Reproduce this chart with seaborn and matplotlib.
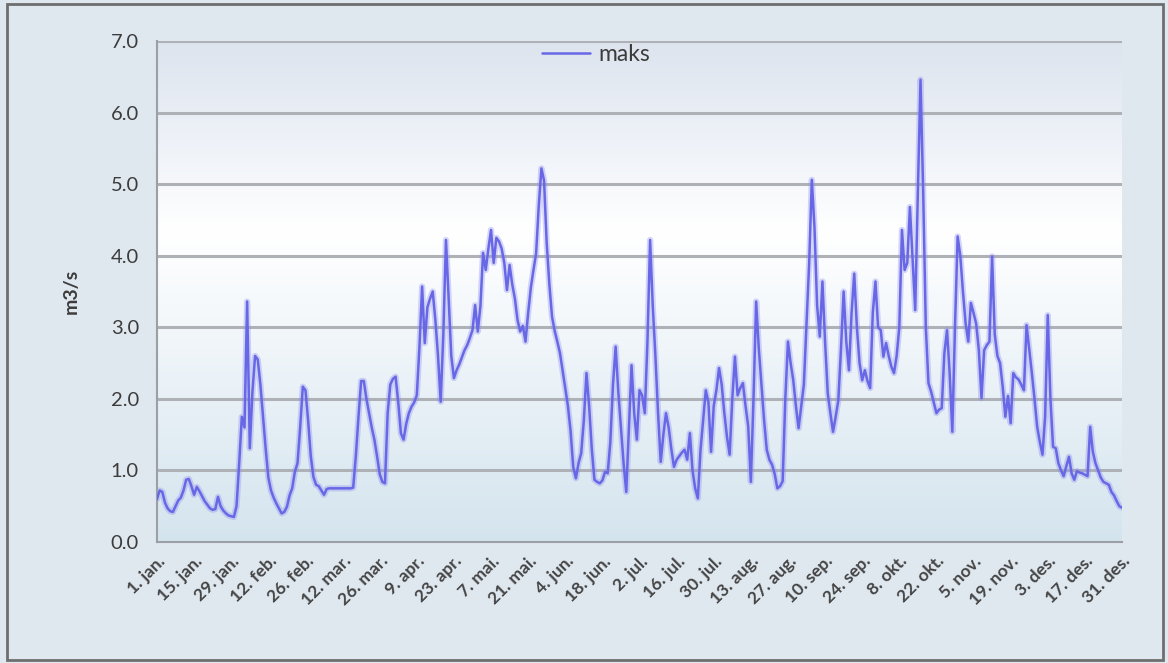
import numpy as np
import pandas as pd
import matplotlib
matplotlib.use("Agg")
import matplotlib.pyplot as plt
from matplotlib.colors import LinearSegmentedColormap
from matplotlib.patches import Rectangle
import seaborn as sns

# Daily maximum discharge (m3/s), 1 Jan - 31 Dec
maks = [
    0.60, 0.72, 0.70, 0.55, 0.47, 0.43, 0.42, 0.50, 0.58, 0.62,
    0.72, 0.87, 0.88, 0.78, 0.66, 0.77, 0.71, 0.64, 0.57, 0.52,
    0.47, 0.45, 0.46, 0.63, 0.50, 0.44, 0.40, 0.37, 0.36, 0.35,
    0.50, 1.10, 1.75, 1.60, 3.36, 1.31, 2.10, 2.60, 2.55, 2.20,
    1.75, 1.30, 0.90, 0.72, 0.62, 0.54, 0.47, 0.40, 0.42, 0.49,
    0.65, 0.75, 0.98, 1.10, 1.60, 2.17, 2.12, 1.70, 1.20, 0.91,
    0.80, 0.78, 0.72, 0.66, 0.74, 0.75, 0.75, 0.75, 0.75, 0.75,
    0.75, 0.75, 0.75, 0.75, 0.76, 1.20, 1.75, 2.25, 2.25, 2.00,
    1.80, 1.60, 1.43, 1.20, 0.95, 0.84, 0.82, 1.80, 2.20, 2.28,
    2.31, 1.95, 1.52, 1.43, 1.65, 1.80, 1.89, 1.95, 2.05, 2.73,
    3.57, 2.78, 3.28, 3.40, 3.50, 3.10, 2.60, 1.96, 2.90, 4.22,
    3.40, 2.60, 2.29, 2.40, 2.48, 2.58, 2.68, 2.75, 2.85, 2.96,
    3.31, 2.94, 3.30, 4.04, 3.80, 4.10, 4.36, 3.90, 4.25, 4.20,
    4.10, 3.90, 3.52, 3.87, 3.60, 3.40, 3.10, 2.94, 3.02, 2.80,
    3.20, 3.55, 3.80, 4.03, 4.70, 5.22, 5.05, 4.17, 3.60, 3.15,
    2.95, 2.80, 2.64, 2.40, 2.15, 1.90, 1.55, 1.05, 0.89, 1.10,
    1.24, 1.70, 2.36, 1.90, 1.30, 0.87, 0.84, 0.82, 0.86, 0.98,
    0.96, 1.40, 2.20, 2.73, 2.10, 1.61, 1.10, 0.70, 1.60, 2.47,
    1.80, 1.43, 2.12, 2.05, 1.80, 2.80, 4.22, 3.30, 2.60, 1.80,
    1.12, 1.50, 1.80, 1.60, 1.30, 1.05, 1.15, 1.20, 1.25, 1.29,
    1.15, 1.52, 1.00, 0.75, 0.61, 1.28, 1.70, 2.12, 1.95, 1.26,
    1.90, 2.12, 2.43, 2.20, 1.80, 1.47, 1.22, 2.00, 2.59, 2.05,
    2.15, 2.22, 1.90, 1.62, 0.84, 2.00, 3.36, 2.70, 2.20, 1.70,
    1.29, 1.15, 1.08, 0.95, 0.75, 0.78, 0.85, 2.00, 2.80, 2.50,
    2.26, 1.90, 1.59, 1.90, 2.20, 3.05, 3.90, 5.06, 4.40, 3.30,
    2.87, 3.64, 2.80, 2.08, 1.80, 1.54, 1.75, 1.98, 2.70, 3.50,
    2.80, 2.40, 3.20, 3.75, 3.00, 2.50, 2.26, 2.40, 2.25, 2.15,
    3.20, 3.64, 3.00, 2.96, 2.59, 2.78, 2.60, 2.45, 2.36, 2.60,
    3.00, 4.36, 3.80, 3.90, 4.68, 3.95, 3.24, 4.90, 6.46, 4.90,
    3.00, 2.22, 2.10, 1.95, 1.80, 1.85, 1.87, 2.64, 2.96, 2.35,
    1.54, 3.00, 4.27, 4.00, 3.50, 3.06, 2.80, 3.34, 3.20, 3.05,
    2.68, 2.01, 2.68, 2.75, 2.80, 3.99, 2.90, 2.60, 2.50, 2.17,
    1.75, 2.04, 1.66, 2.36, 2.30, 2.27, 2.20, 2.12, 3.03, 2.70,
    2.36, 2.00, 1.61, 1.40, 1.22, 1.75, 3.17, 2.00, 1.33, 1.31,
    1.10, 1.00, 0.92, 1.06, 1.19, 0.96, 0.87, 0.99, 0.97, 0.96,
    0.94, 0.92, 1.61, 1.26, 1.10, 1.00, 0.90, 0.84, 0.82, 0.80,
    0.70, 0.65, 0.57, 0.50, 0.48,
]

tick_labels = [
    "1. jan.", "15. jan.", "29. jan.", "12. feb.", "26. feb.", "12. mar.",
    "26. mar.", "9. apr.", "23. apr.", "7. mai.", "21. mai.", "4. jun.",
    "18. jun.", "2. jul.", "16. jul.", "30. jul.", "13. aug.", "27. aug.",
    "10. sep.", "24. sep.", "8. okt.", "22. okt.", "5. nov.", "19. nov.",
    "3. des.", "17. des.", "31. des.",
]
y_ticks = [0.0, 1.0, 2.0, 3.0, 4.0, 5.0, 6.0, 7.0]

df = pd.DataFrame({"dag": np.arange(len(maks)), "maks": maks})

sns.set_style("white")
plt.rcParams["font.family"] = ["Lato", "DejaVu Sans"]

fig = plt.figure(figsize=(11.68, 6.63), dpi=100)
fig.patch.set_facecolor("#dfe7ef")
ax = fig.add_axes([157 / 1168, 1 - 542 / 663, 965 / 1168, 501 / 663])

# soft vertical gradient behind the plot area
grad = LinearSegmentedColormap.from_list(
    "bg", [(0.0, "#d4e4ee"), (0.45, "#f4f8fb"), (0.62, "#ffffff"),
           (0.8, "#eef2f8"), (1.0, "#dde4ee")])
ax.imshow(np.linspace(0, 1, 256).reshape(-1, 1), cmap=grad, origin="lower",
          extent=[-1, 366, 0, 7], aspect="auto", zorder=0)

for yv in y_ticks[1:]:
    ax.axhline(yv, color="#aeb2b7", lw=2.2, zorder=1)

# faint halo under the line
ax.plot(df["dag"], df["maks"], color="#8c8cf0", lw=4.5, alpha=0.35, zorder=2,
        solid_joinstyle="round")
sns.lineplot(data=df, x="dag", y="maks", ax=ax, color="#6868e6", lw=1.8,
             label="maks", zorder=3)

ax.set_xlim(0, 364)
ax.set_ylim(0, 7)
ax.set_xticks(np.arange(0, 365, 14))
ax.set_xticklabels(tick_labels, rotation=45, ha="right", rotation_mode="anchor",
                   fontsize=12.5, fontweight="bold", color="#444444")
ax.set_yticks(y_ticks)
ax.set_yticklabels([f"{v:.1f}" for v in y_ticks], fontsize=14.5, color="#3c3c3c")
ax.tick_params(axis="x", direction="out", length=5, width=1.2, color="#9aa0a6", pad=3)
ax.tick_params(axis="y", direction="out", length=5, width=1.2, color="#9aa0a6", pad=8)
ax.set_xlabel("")
ax.set_ylabel("m3/s", fontsize=14, fontweight="bold", color="#3c3c3c", labelpad=22)

for side in ["top", "right"]:
    ax.spines[side].set_visible(False)
for side in ["left", "bottom"]:
    ax.spines[side].set_color("#9aa0a6")
    ax.spines[side].set_linewidth(1.5)

leg = ax.legend(loc="upper center", bbox_to_anchor=(0.455, 1.035), frameon=False,
                fontsize=16.5, handlelength=2.1, handletextpad=0.35)
for t in leg.get_texts():
    t.set_color("#3c3c3c")

# outer frame of the chart
fig.patches.append(Rectangle((0.006, 0.004), 0.99, 0.99, transform=fig.transFigure,
                             fill=False, edgecolor="#6e6e6e", lw=2.0))

fig.savefig("out.png", dpi=100, facecolor=fig.get_facecolor())
